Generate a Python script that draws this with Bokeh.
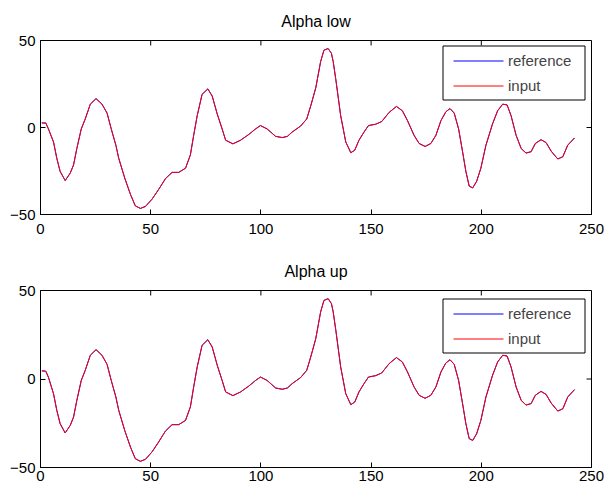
import math
from bokeh.plotting import figure
from bokeh.layouts import column
from bokeh.models import (Range1d, FixedTicker, Legend, LegendItem, Title, BoxAnnotation,
                          PolyAnnotation)
from bokeh.embed import file_html
from bokeh.resources import INLINE

x_vals = [0.6, 2.4, 3.6, 5.9, 7.4, 8.9, 11.2, 13.5, 15.0, 16.5, 18.5, 20.3, 22.6, 25.2, 27.9,
          30.2, 32.1, 34.2, 35.5, 38.2, 40.8, 43.0, 45.3, 47.6, 50.6, 53.6, 56.7, 59.7, 62.7,
          65.8, 68.0, 69.5, 71.1, 73.3, 75.9, 77.9, 80.2, 82.4, 84.0, 87.3, 90.8, 94.5, 97.6,
          99.8, 102.8, 106.7, 109.7, 112.0, 114.2, 118.0, 120.8, 122.6, 124.9, 127.1, 128.6,
          130.5, 132.0, 132.8, 134.0, 136.2, 138.5, 140.8, 142.6, 144.5, 146.8, 148.8, 152.1,
          154.8, 158.2, 161.5, 164.2, 166.5, 169.5, 171.8, 174.5, 177.1, 179.4, 181.7, 183.9,
          185.8, 187.7, 189.7, 191.5, 193.0, 194.5, 196.1, 197.9, 199.8, 202.1, 205.1, 207.4,
          209.7, 211.7, 213.5, 215.8, 218.1, 220.3, 222.6, 224.5, 227.1, 229.4, 231.7, 234.7,
          237.0, 239.2, 242.3]

low_vals = [2.6, 2.6, -0.8, -8.3, -17.7, -25.2, -30.5, -26.2, -21.5, -12.0, -0.8, 4.9, 13.4,
            16.6, 13.4, 8.3, -0.8, -10.2, -17.7, -29.0, -38.4, -45.0, -46.5, -45.4, -41.2,
            -35.6, -29.4, -25.8, -25.8, -23.4, -15.8, -4.5, 6.8, 19.0, 22.2, 18.1, 7.7, -0.8,
            -7.3, -9.4, -7.3, -4.0, -0.8, 1.1, -0.8, -5.1, -5.8, -5.1, -2.6, 0.8, 4.9, 12.4,
            22.8, 37.9, 44.4, 45.4, 42.6, 37.9, 27.5, 6.8, -8.3, -14.5, -13.0, -7.3, -2.6, 1.1,
            1.9, 3.4, 8.7, 12.1, 9.6, 4.0, -4.5, -9.2, -10.9, -9.2, -4.5, 4.0, 9.0, 10.9, 8.3,
            -0.8, -13.9, -25.2, -33.7, -34.7, -30.9, -23.4, -10.2, 2.1, 9.6, 13.4, 13.0, 6.8,
            -4.5, -12.1, -14.7, -13.9, -9.2, -7.0, -8.7, -13.6, -18.1, -16.8, -10.2, -6.0]

up_vals = [4.6, 4.4, 1.0] + low_vals[3:]

titles = ["Alpha low", "Alpha up"]
legend_labels = ["reference", "input"]
series_colors = ["#0000ff", "#ff0000"]
x_ticks = [0, 50, 100, 150, 200, 250]
y_ticks = [-50, 0, 50]
FONT = "Liberation Sans"

# legend geometry, in screen px measured from the frame's bottom-left corner
LEG_X, LEG_Y, LEG_W, LEG_H = 402, 114, 142, 54
ROW_H, ROW_GAP = 18, 7
SAMPLE_X0, SAMPLE_X1 = 413, 463
ROW_Y = [153.5, 128.5]


def make_plot(title, yvals, height, top, bottom, x_standoff):
    p = figure(width=609, height=height, output_backend="svg", toolbar_location=None,
               x_range=Range1d(x_ticks[0], x_ticks[-1]), y_range=Range1d(y_ticks[0], y_ticks[-1]),
               min_border_left=40, min_border_right=18,
               min_border_top=top, min_border_bottom=bottom)
    p.xgrid.visible = False
    p.ygrid.visible = False
    p.outline_line_color = "black"
    p.outline_line_width = 1
    p.background_fill_color = "white"
    p.border_fill_color = "white"

    for ax, ticks in ((p.xaxis[0], x_ticks), (p.yaxis[0], y_ticks)):
        ax.ticker = FixedTicker(ticks=ticks)
        ax.major_tick_in = 5
        ax.major_tick_out = 0
        ax.minor_tick_line_color = None
        ax.axis_line_color = "black"
        ax.major_tick_line_color = "black"
        ax.major_label_text_font = FONT
        ax.major_label_text_font_size = "15px"
        ax.major_label_text_color = "black"
    p.xaxis[0].major_label_standoff = x_standoff
    p.yaxis[0].major_label_standoff = 5

    # inward ticks on the top and right edges of the box
    p.ray(x=x_ticks, y=[y_ticks[-1]] * len(x_ticks), length=5, length_units="screen",
          angle=-math.pi / 2, line_color="black", line_width=1)
    p.ray(x=[x_ticks[-1]] * len(y_ticks), y=y_ticks, length=5, length_units="screen",
          angle=math.pi, line_color="black", line_width=1)

    t = Title(text=title, align="center", text_font=FONT, text_font_size="16px",
              text_font_style="normal", text_color="black", standoff=21)
    p.add_layout(t, "above")

    for c in series_colors:
        p.line(x_vals, yvals, line_color=c, line_width=1)

    # legend frame
    p.add_layout(BoxAnnotation(left=LEG_X + 0.5, right=LEG_X + LEG_W + 0.5,
                               bottom=LEG_Y + 0.5, top=LEG_Y + LEG_H + 0.5,
                               left_units="screen", right_units="screen",
                               bottom_units="screen", top_units="screen",
                               fill_color="white", fill_alpha=1.0,
                               line_color="black", line_width=1, line_alpha=1.0))
    # legend sample lines
    for c, yc in zip(series_colors, ROW_Y):
        p.add_layout(PolyAnnotation(xs=[SAMPLE_X0, SAMPLE_X1], ys=[yc, yc],
                                    xs_units="screen", ys_units="screen",
                                    line_color=c, line_width=1, line_alpha=1.0,
                                    fill_color=None))
    # legend labels (proxies carry no data, so no glyph is drawn by the legend itself)
    proxies = [p.multi_line(xs=[], ys=[], line_color=c) for c in series_colors]
    leg = Legend(items=[LegendItem(label=legend_labels[i], renderers=[proxies[i]])
                        for i in range(2)],
                 location=(LEG_X + 5, LEG_Y + 6), orientation="vertical",
                 padding=5, spacing=ROW_GAP, glyph_width=SAMPLE_X1 - SAMPLE_X0 + 5,
                 glyph_height=ROW_H, label_height=ROW_H, label_width=66, label_standoff=6,
                 label_text_font=FONT, label_text_font_size="15px",
                 border_line_color=None, background_fill_alpha=0.0)
    p.add_layout(leg, "center")
    return p


p1 = make_plot(titles[0], low_vals, 243, 37, 29, 9)
p2 = make_plot(titles[1], up_vals, 243, 47, 19, 3)
layout = column(p1, p2, spacing=0)

open("out.html", "w").write(file_html(layout, INLINE))
